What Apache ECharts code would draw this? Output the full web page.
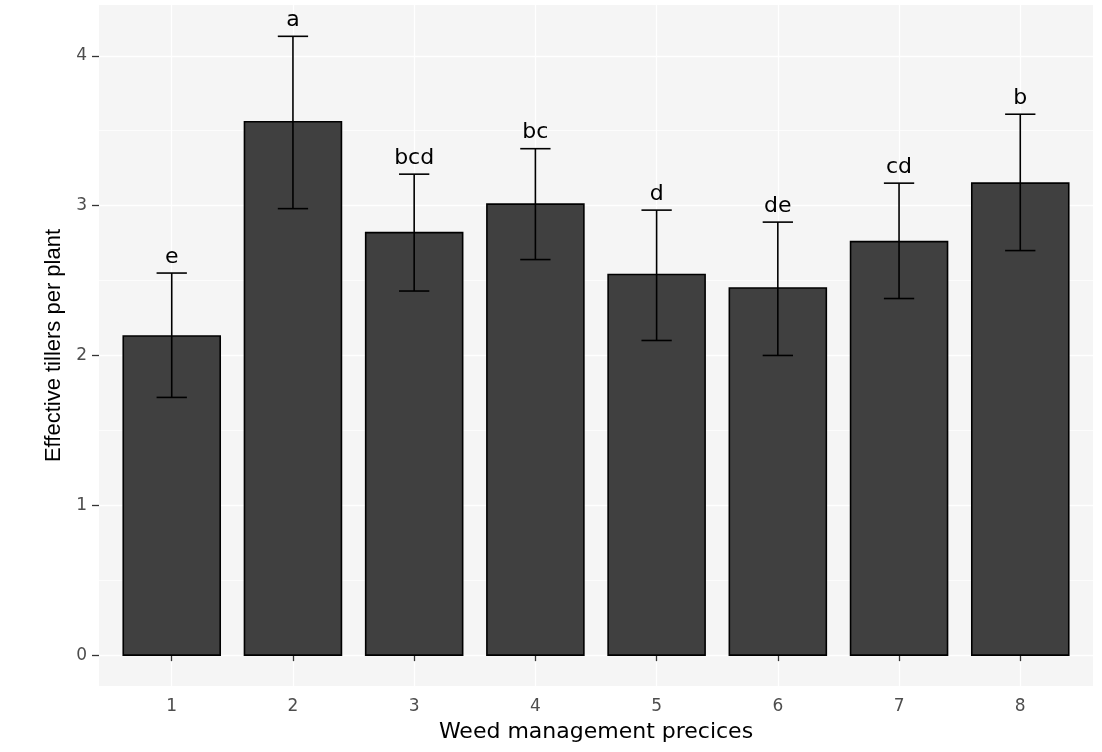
<!DOCTYPE html>
<html>
<head>
<meta charset="utf-8">
<script src="https://cdn.jsdelivr.net/npm/echarts@6/dist/echarts.min.js"></script>
<style>
html,body{margin:0;padding:0;background:#ffffff;}
#chart{width:1102px;height:752px;}
</style>
</head>
<body>
<div id="chart"></div>
<script>
// ---- data ----
const categories = ['1', '2', '3', '4', '5', '6', '7', '8'];
const means  = [2.13, 3.56, 2.82, 3.01, 2.54, 2.45, 2.76, 3.15];
const lower  = [1.72, 2.98, 2.43, 2.64, 2.10, 2.00, 2.38, 2.70];
const upper  = [2.55, 4.13, 3.21, 3.38, 2.97, 2.89, 3.15, 3.61];
const letters = ['e', 'a', 'bcd', 'bc', 'd', 'de', 'cd', 'b'];
const yTicks = [0, 1, 2, 3, 4];
const xTicks = [1, 2, 3, 4, 5, 6, 7, 8];
const xTitle = 'Weed management precices';
const yTitle = 'Effective tillers per plant';
const yLimits = [-0.206, 4.339];
const xLimits = [0.4, 8.6];

// ---- chart ----
const rows = categories.map((c, i) => [i + 1, means[i], lower[i], upper[i]]);
const BAR_HALF = 0.4;
const CAP_HALF = 0.125;

const chart = echarts.init(document.getElementById('chart'), null, {renderer: 'canvas'});

function renderBar(params, api) {
  const x = api.value(0), v = api.value(1);
  const p0 = api.coord([x - BAR_HALF, v]);
  const p1 = api.coord([x + BAR_HALF, 0]);
  return {
    type: 'rect',
    shape: {x: p0[0], y: p0[1], width: p1[0] - p0[0], height: p1[1] - p0[1]},
    style: {fill: '#404040', stroke: '#000000', lineWidth: 1.6}
  };
}

function renderErr(params, api) {
  const i = params.dataIndex;
  const x = api.value(0), lo = api.value(2), hi = api.value(3);
  const top = api.coord([x, hi]);
  const bot = api.coord([x, lo]);
  const tl = api.coord([x - CAP_HALF, hi]);
  const tr = api.coord([x + CAP_HALF, hi]);
  const bl = api.coord([x - CAP_HALF, lo]);
  const br = api.coord([x + CAP_HALF, lo]);
  const ls = {stroke: '#000000', lineWidth: 1.6, fill: null};
  return {
    type: 'group',
    children: [
      {type: 'line', shape: {x1: top[0], y1: top[1], x2: bot[0], y2: bot[1]}, style: ls},
      {type: 'line', shape: {x1: tl[0], y1: tl[1], x2: tr[0], y2: tr[1]}, style: ls},
      {type: 'line', shape: {x1: bl[0], y1: bl[1], x2: br[0], y2: br[1]}, style: ls},
      {type: 'text', x: top[0], y: top[1] - 16,
       style: {text: letters[i], fill: '#000000', fontSize: 22, fontFamily: 'DejaVu Sans',
               align: 'center', verticalAlign: 'middle', textAlign: 'center', textVerticalAlign: 'middle'}}
    ]
  };
}

const option = {
  animation: false,
  backgroundColor: '#ffffff',
  grid: {
    left: 99, right: 9, top: 5, bottom: 66,
    show: true, backgroundColor: '#F5F5F5', borderWidth: 0,
    containLabel: false, outerBoundsMode: 'none'
  },
  xAxis: {
    type: 'value',
    min: xLimits[0], max: xLimits[1],
    splitNumber: 8, minInterval: 1, maxInterval: 1,
    axisLine: {show: false},
    axisTick: {show: true, length: 6, customValues: xTicks, lineStyle: {color: '#333333', width: 1.3}},
    axisLabel: {
      show: true, margin: 12, customValues: xTicks,
      fontFamily: 'DejaVu Sans', fontSize: 17, color: '#4D4D4D',
      formatter: v => (Number.isInteger(v) && v >= 1 && v <= categories.length) ? categories[v - 1] : ''
    },
    splitLine: {show: true, lineStyle: {color: '#ffffff', width: 1.3}},
    name: xTitle,
    nameLocation: 'middle',
    nameGap: 35,
    nameTextStyle: {fontFamily: 'DejaVu Sans', fontSize: 22, color: '#000000'}
  },
  yAxis: {
    type: 'value',
    min: yLimits[0], max: yLimits[1],
    splitNumber: 5, minInterval: 1, maxInterval: 1,
    axisLine: {show: false},
    axisTick: {show: true, length: 7, customValues: yTicks, lineStyle: {color: '#333333', width: 1.3}},
    axisLabel: {
      show: true, margin: 12, customValues: yTicks,
      fontFamily: 'DejaVu Sans', fontSize: 17, color: '#4D4D4D',
      formatter: v => yTicks.indexOf(v) >= 0 ? String(v) : ''
    },
    splitLine: {show: true, lineStyle: {color: '#ffffff', width: 1.3}},
    minorTick: {show: false, splitNumber: 2},
    minorSplitLine: {show: true, lineStyle: {color: '#ffffff', width: 0.7}},
    name: yTitle,
    nameLocation: 'middle',
    nameGap: 27,
    nameTextStyle: {fontFamily: 'Liberation Sans', fontSize: 22, color: '#000000'}
  },
  series: [
    {type: 'custom', name: 'bars', renderItem: renderBar, data: rows, encode: {x: 0, y: 1}, z: 2},
    {type: 'custom', name: 'errors', renderItem: renderErr, data: rows, encode: {x: 0, y: [2, 3]}, z: 3, clip: false}
  ]
};
chart.setOption(option);
</script>
</body>
</html>
